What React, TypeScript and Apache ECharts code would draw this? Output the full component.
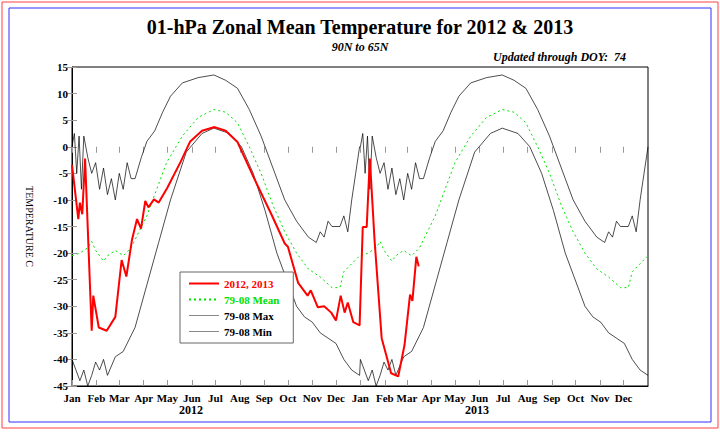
import { useEffect, useRef } from "react";
import * as echarts from "echarts";

// day-of-period (0 = 1 Jan 2012), value in deg C
const redDays = [0, 8, 10, 13, 16.6, 25, 27, 34, 44, 55, 63, 69, 76, 82.5, 87.6, 93, 97, 104, 110, 121, 138, 150, 165, 181, 195, 210, 231, 253, 270, 274, 287, 299, 303, 312, 320, 329, 335, 341, 346, 350, 357, 365, 369, 374, 378, 384, 393, 405, 414, 422, 429, 432, 437, 440];
const redVals = [-3.4, -13.6, -10.5, -12.7, -2.2, -34.6, -28, -34, -34.6, -32, -21.3, -24.4, -17.6, -13.6, -15.4, -10.2, -11.4, -9.9, -10.5, -7.7, -2.8, 1, 3, 3.7, 3, 0.9, -5.9, -12.7, -18.2, -18.8, -25.6, -28, -27, -30.2, -30, -31.2, -32.7, -28, -31.2, -29.3, -33, -33.6, -15.1, -15.1, -2.2, -17.6, -36, -42.6, -43.2, -37.3, -27.8, -29, -20.7, -22.5];

// climatology, one year, repeated for 2012 and 2013
const maxDays = [0, 3, 6, 9, 12, 15, 20, 25, 30, 35, 40, 45, 50, 55, 60, 65, 70, 75, 80, 88, 95, 105, 115, 125, 140, 160, 180, 195, 210, 225, 240, 255, 270, 285, 300, 310, 315, 320, 325, 330, 340, 345, 350, 355, 360, 365];
const maxVals = [0, 2.5, -5, 2, -8, 2, -2, -5, -3, -8, -4, -9, -6, -10, -5, -8, -3, -6, -6, -2, 1, 3, 6.5, 9.5, 12, 13, 13.5, 12.5, 11, 7, 2, -4, -10, -14, -17, -18, -16, -17, -14, -15, -15, -13, -16, -10, -5, 0];
const meanDays = [0, 10, 20, 25, 30, 40, 45, 55, 65, 75, 85, 95, 105, 120, 140, 160, 180, 195, 210, 225, 240, 255, 270, 285, 300, 315, 330, 340, 345, 355, 365];
const meanVals = [-20.5, -20, -19, -17.8, -19.5, -21.5, -20.5, -19.5, -20.5, -19, -16, -13, -9, -3, 2, 5.5, 7, 6.5, 4.5, 0, -5, -11, -16, -20, -23, -24.5, -26.5, -26.5, -23.5, -22, -20.5];
const minDays = [0, 5, 10, 15, 20, 25, 30, 35, 40, 45, 55, 65, 80, 95, 110, 125, 145, 165, 180, 200, 215, 230, 245, 260, 275, 285, 295, 305, 315, 325, 335, 345, 355, 365];
const minVals = [-40, -42, -44, -42, -45, -43, -40.5, -42, -40, -43, -39.5, -38.5, -34, -26, -18, -10, -1, 2.5, 3.5, 2.5, 0, -5, -12, -20, -26, -30, -32, -33, -35, -36, -37, -40, -42, -43];

const monthStarts = [0, 31, 60, 91, 121, 152, 182, 213, 244, 274, 305, 335, 366, 397, 425, 456, 486, 517, 547, 578, 609, 639, 670, 700];
const monthNames = ["Jan", "Feb", "Mar", "Apr", "May", "Jun", "Jul", "Aug", "Sep", "Oct", "Nov", "Dec"];

const pairs = (d: number[], v: number[]) => d.map((x, i) => [x, v[i]]);
const twoYears = (d: number[], v: number[]) => [...pairs(d, v), ...pairs(d.map((x) => x + 366), v)];

export default function App() {
  const ref = useRef<HTMLDivElement | null>(null);
  useEffect(() => {
    if (!ref.current) return;
    const chart = echarts.init(ref.current, null, { renderer: "svg" });
    const font = "Liberation Serif";
    const tickX = { show: true, inside: true, length: 6, lineStyle: { color: "#999" }, customValues: monthStarts };
    const noSym = { opacity: 0 };
    chart.setOption({
      animation: false,
      textStyle: { fontFamily: font },
      graphic: [
        { type: "rect", shape: { x: 2, y: 2, width: 716, height: 426 }, style: { fill: "none", stroke: "#ff4040", lineWidth: 1 } },
        { type: "rect", shape: { x: 9, y: 8, width: 702, height: 414 }, style: { fill: "none", stroke: "#3030ff", lineWidth: 1 } },
        { type: "text", x: 360, y: 27, style: { text: "01-hPa Zonal Mean Temperature for 2012 & 2013", font: `bold 20px ${font}`, align: "center", verticalAlign: "middle", fill: "#000" } },
        { type: "text", x: 360, y: 47, style: { text: "90N to 65N", font: `italic bold 12px ${font}`, align: "center", verticalAlign: "middle", fill: "#000" } },
        { type: "text", x: 626, y: 57, style: { text: "Updated through DOY:  74", font: `italic bold 12px ${font}`, align: "right", verticalAlign: "middle", fill: "#000" } },
        { type: "text", x: 191, y: 410, style: { text: "2012", font: `bold 12px ${font}`, align: "center", verticalAlign: "middle", fill: "#000" } },
        { type: "text", x: 477, y: 410, style: { text: "2013", font: `bold 12px ${font}`, align: "center", verticalAlign: "middle", fill: "#000" } },
      ],
      grid: { left: 72, right: 72, top: 67, bottom: 46, show: true, borderColor: "#000", borderWidth: 1 },
      legend: {
        left: 180, top: 272, orient: "vertical", itemWidth: 30, itemHeight: 8, itemGap: 5,
        backgroundColor: "#fff", borderColor: "#666", borderWidth: 1, padding: [6, 14, 6, 8],
        textStyle: { fontFamily: font, fontWeight: "bold", fontSize: 11, color: "#000" },
        data: [
          { name: "2012, 2013", itemStyle: noSym, textStyle: { color: "#ff0000" } },
          { name: "79-08 Mean", itemStyle: noSym, textStyle: { color: "#00e000" } },
          { name: "79-08 Max", itemStyle: noSym, lineStyle: { width: 0.7, color: "#555" } },
          { name: "79-08 Min", itemStyle: noSym, lineStyle: { width: 0.7, color: "#555" } },
        ],
      },
      xAxis: [
        {
          type: "value", min: 0, max: 731,
          axisLine: { onZero: false, lineStyle: { color: "#000" } },
          splitLine: { show: false },
          axisTick: tickX,
          axisLabel: {
            customValues: monthStarts, color: "#000", fontWeight: "bold", fontSize: 11, fontFamily: font, margin: 6,
            formatter: (v: number) => monthNames[monthStarts.indexOf(v) % 12] ?? "",
          },
        },
        { type: "value", min: 0, max: 731, position: "top", axisLine: { show: false }, splitLine: { show: false }, axisLabel: { show: false }, axisTick: tickX },
      ],
      yAxis: [
        {
          type: "value", min: -45, max: 15, interval: 5,
          name: "TEMPERATURE C", nameLocation: "middle", nameRotate: -90, nameGap: 38,
          nameTextStyle: { fontFamily: font, fontSize: 10, color: "#000" },
          axisLine: { show: true, onZero: false, lineStyle: { color: "#000" } },
          axisTick: { show: true, inside: true, length: 5, lineStyle: { color: "#999" } },
          splitLine: { show: false },
          axisLabel: { color: "#000", fontWeight: "bold", fontSize: 11, fontFamily: font, margin: 4 },
        },
        { type: "value", min: -45, max: 15, interval: 5, position: "right", axisLine: { show: false }, axisLabel: { show: false }, splitLine: { show: false }, axisTick: { show: true, inside: true, length: 5, lineStyle: { color: "#999" } } },
      ],
      series: [
        { name: "79-08 Max", type: "line", data: twoYears(maxDays, maxVals), symbol: "none", itemStyle: { color: "#000" }, lineStyle: { color: "#000", width: 0.7 } },
        { name: "79-08 Min", type: "line", data: twoYears(minDays, minVals), symbol: "none", itemStyle: { color: "#000" }, lineStyle: { color: "#000", width: 0.7 } },
        { name: "79-08 Mean", type: "line", data: twoYears(meanDays, meanVals), symbol: "none", itemStyle: { color: "#00e000" }, lineStyle: { color: "#00e000", width: 1, type: [2, 3] } },
        { name: "2012, 2013", type: "line", data: pairs(redDays, redVals), symbol: "none", itemStyle: { color: "#ff0000" }, lineStyle: { color: "#ff0000", width: 2 }, z: 5 },
      ],
    });
    return () => chart.dispose();
  }, []);
  return <div ref={ref} style={{ width: 720, height: 432, position: "absolute", left: 0, top: 0 }} />;
}
